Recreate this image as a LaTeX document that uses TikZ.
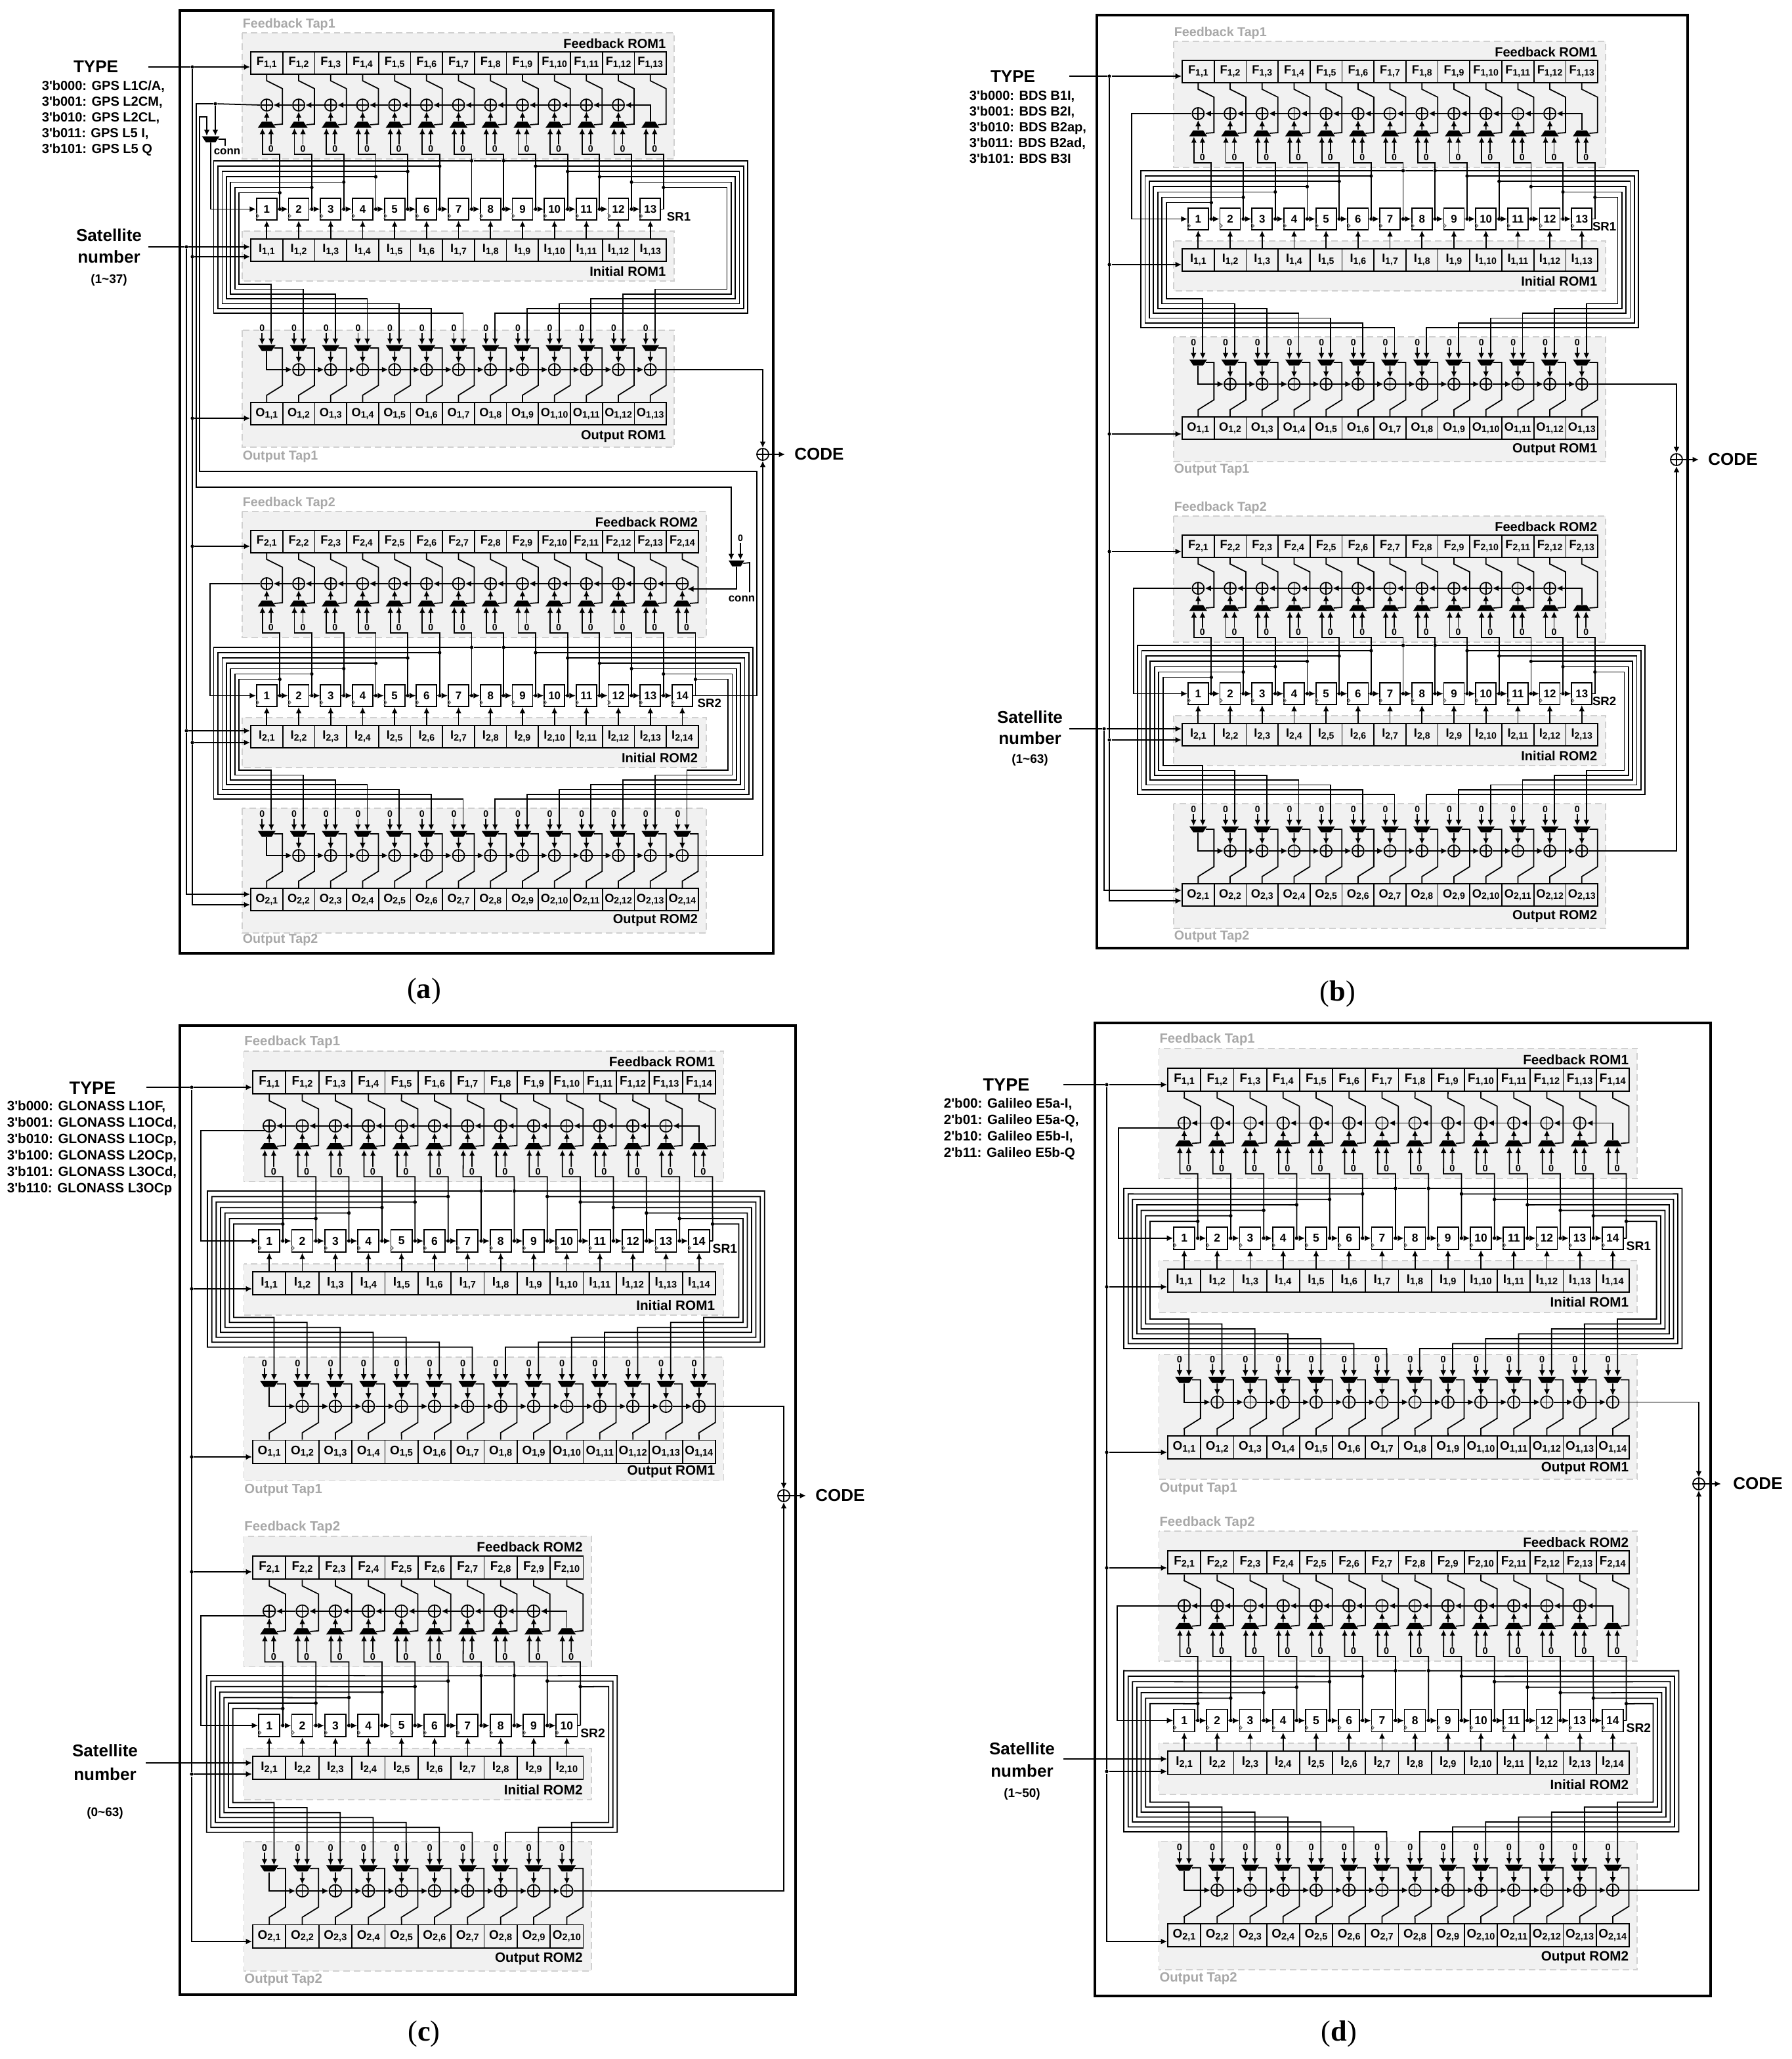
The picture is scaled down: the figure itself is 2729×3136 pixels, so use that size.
\documentclass[tikz,border=0pt]{standalone}
\usepackage{fontspec}
\setmainfont{Liberation Sans}
\newfontfamily\capfont{Liberation Serif}
\usetikzlibrary{arrows.meta,shapes.geometric}
\definecolor{tapgrey}{HTML}{F1F1F1}
\definecolor{tapline}{HTML}{D0D0D0}
\definecolor{taptext}{HTML}{A8A8A8}
\newcommand{\fsz}[1]{\fontsize{#1pt}{#1pt}\selectfont}
\newcommand{\cellname}[3]{{\fsz{5.2}#1}\raisebox{-0.7pt}{\fsz{4}#2,#3}}
\tikzset{
	panelframe/.style={line width=1.15pt},			% Panel border
	taparea/.style={draw=tapline,fill=tapgrey,dash pattern=on 2.8pt off 1.7pt,line width=0.5pt},
	taplabel/.style={font=\bfseries\fsz{5.6},text=taptext,inner sep=0pt},
	romlabel/.style={font=\bfseries\fsz{5.7},inner sep=0pt,anchor=east},
	rom/.style={rectangle,draw,fill=tapgrey,minimum width=0.487cm,minimum height=0.34cm,inner sep=0pt,font=\bfseries},
	srbox/.style={rectangle,draw,fill=white,minimum width=0.31cm,minimum height=0.33cm,inner sep=0pt,font=\bfseries\fsz{4.8}},
	xorgate/.style={circle,draw,minimum size=0.18cm,inner sep=0pt,path picture={
		\draw (path picture bounding box.north) -- (path picture bounding box.south)
			(path picture bounding box.west) -- (path picture bounding box.east);}},
	muxbase/.style={trapezium,trapezium stretches=true,trapezium angle=68,fill=black,minimum width=0.27cm,minimum height=0.09cm,inner sep=0pt,text width=0.3pt,text height=0.3pt,text depth=0pt},
	muxup/.style={muxbase},						% Wide side below
	muxdown/.style={muxbase,shape border rotate=180},	% Wide side above
	junction/.style={circle,fill=black,minimum size=0.052cm,inner sep=0pt},
	zero/.style={font=\bfseries\fsz{4},inner sep=0.2pt},
	paneltitle/.style={font=\bfseries\fsz{7.4},inner sep=0pt},
	bigtitle/.style={font=\bfseries\fsz{7.7},inner sep=0pt},
	sublist/.style={font=\bfseries\fontsize{5.7pt}{6.83pt}\selectfont,inner sep=0pt,align=left,anchor=west},
	widelist/.style={font=\bfseries\fontsize{5.85pt}{7.1pt}\selectfont,inner sep=0pt,align=left,anchor=west},
	satrange/.style={font=\bfseries\fsz{5.4},inner sep=0pt},
	connlabel/.style={font=\bfseries\fsz{4.8},inner sep=0pt},
	panelcap/.style={font=\capfont\fsz{12.6},inner sep=0pt}
}
% Chain defaults, changed in front of a chain where it differs
\newcommand{\chaindefaults}{
	\def\ogtop{-122}\def\ogbot{68}\def\omlabel{50}\def\otlabel{81}\def\lowgap{136}\def\srdx{14}
}
\chaindefaults
% #1 name #2 chain #3 cells #4 feedback row #5 upper bus #6 output row #7 bus left #8 bus right #9 xor count
\newcommand{\lfsr}[9]{
	\pgfmathsetmacro{\roww}{#3*48.7}
	\draw[taparea] (-13,#4-29) rectangle (\roww+12,#4+163);
	\draw[taparea] (-13,#5+107) rectangle (\roww+12,#5+183);
	\draw[taparea] (-13,#6+\ogtop) rectangle (\roww+12,#6+\ogbot);
	\node[taplabel,anchor=west] (#1-ftap) at (-13,#4-42) {Feedback Tap#2};
	\node[taplabel,anchor=west] (#1-otap) at (-13,#6+\otlabel) {Output Tap#2};
	\node[romlabel] (#1-from) at (\roww,#4-13) {Feedback ROM#2};
	\node[romlabel] (#1-irom) at (\roww,#5+168) {Initial ROM#2};
	\node[romlabel] (#1-orom) at (\roww,#6+\omlabel) {Output ROM#2};
	\node[font=\bfseries\fsz{5.3},inner sep=0pt] (#1-srname) at (\roww+\srdx,#5+85) {SR#2};
	\foreach \i in {1,...,#3} {
		\pgfmathsetmacro{\cx}{(\i-0.5)*48.7}
		\pgfmathtruncatemacro{\k}{\i<8 ? 7-\i : \i-8}
		\node[rom] (#1-F-\i) at (\cx,#4+17) {\cellname{F}{#2}{\i}};
		\node[rom] (#1-I-\i) at (\cx,#5+136) {\cellname{I}{#2}{\i}};
		\node[rom] (#1-O-\i) at (\cx,#6+17) {\cellname{O}{#2}{\i}};
		\node[srbox] (#1-S-\i) at (\cx,#5+73.5) {\i};
		\node[muxup] (#1-fm-\i) at (\cx,#4+111) {};
		\node[muxdown] (#1-om-\i) at (\cx,#6-83) {};
		\coordinate (#1-fl-\i) at (\cx-6.5,#4+116);
		\coordinate (#1-fr-\i) at (\cx+6.5,#4+116);
		\coordinate (#1-ol-\i) at (\cx-7,#6-88);
		\coordinate (#1-or-\i) at (\cx+7,#6-88);
		\node[zero] (#1-fz-\i) at (\cx+6.5,#4+148) {0};
		\node[zero] (#1-oz-\i) at (\cx-7,#6-113) {0};
		\node[junction] (#1-lv-\i) at (\cx+20,#5+\k*8.1) {};
		\ifnum\i<#3
			\node[junction] (#1-cd-\i) at (\cx+20,#5+73.5) {};
		\else
			\coordinate (#1-cd-\i) at (\cx+20,#5+73.5);
		\fi
		\ifnum\i>#9\else
			\node[xorgate] (#1-fx-\i) at (\cx,#4+81) {};
		\fi
		\ifnum\i>1
			\node[xorgate] (#1-ox-\i) at (\cx,#6-50) {};
		\fi
	}
	\foreach \i in {1,...,#3} {
		\pgfmathsetmacro{\cx}{(\i-0.5)*48.7}
		\pgfmathtruncatemacro{\k}{\i<8 ? 7-\i : \i-8}
		\pgfmathtruncatemacro{\j}{\i+1}
		\pgfmathtruncatemacro{\h}{\i-1}
		\pgfmathsetmacro{\xk}{\i<8 ? #7+6.45*\k : #8-6.3*\k}
		% Feedback side
		\draw (#1-F-\i.south) -- (\cx,#4+44) -- (\cx+24,#4+56) -- (\cx+24,#4+110) -- (#1-fm-\i.east);
		\draw[->] (#1-fz-\i) -- (#1-fr-\i);
		\ifnum\i>#9
			\draw[->] (#1-fm-\i.north) |- (#1-fx-#9.east);
		\else
			\draw[->] (#1-fm-\i.north) -- (#1-fx-\i.south);
		\fi
		\ifnum\i<#9
			\draw[->] (#1-fx-\j.west) -- (#1-fx-\i.east);
		\fi
		% Shift register
		\draw[gray] (#1-S-\i.south west) ++(0,-3) -- ++(4,-4) -- ++(-4,-4);
		\draw[->] (#1-I-\i.north) -- (#1-S-\i.south);
		\draw (#1-S-\i.east) -- (#1-cd-\i);
		\ifnum\i<#3
			\draw[->] (#1-cd-\i) -- (#1-S-\j.west);
		\fi
		\draw[->] (#1-cd-\i.center) -- (#1-lv-\i.center) -- (\cx+20,#4+156) -- (\cx-6.5,#4+156) -- (#1-fl-\i);
		% Bus to the output muxes
		\draw[->] (#1-lv-\i.center) -- (\xk,#5+\k*8.1) -- (\xk,#6-\lowgap-\k*7.3) -- (\cx+7,#6-\lowgap-\k*7.3) -- (#1-or-\i);
		% Output side
		\draw[->] (#1-oz-\i) -- (#1-ol-\i);
		\draw (#1-om-\i.east) -- (\cx+24,#6-83) -- (\cx+24,#6-26) -- (\cx,#6-11) -- (#1-O-\i.north);
		\ifnum\i=1
			\draw[->] (#1-om-\i.south) |- (#1-ox-2.west);
		\else
			\draw[->] (#1-om-\i.south) -- (#1-ox-\i.north);
		\fi
		\ifnum\i>2
			\draw[->] (#1-ox-\h.east) -- (#1-ox-\i.west);
		\fi
	}
	\draw (#1-lv-7) -- (#1-lv-8);
}
% Entry with a junction on a vertical line
\newcommand{\tapin}[4]{
	\node[junction] (#1) at (#2,#3) {};
	\draw[->] (#1) -- (#1 -| #4.west);
}
% Entry where a vertical line ends
\newcommand{\tapend}[5]{
	\coordinate (#1) at (#2,#3);
	\draw[->] (#5) -- (#1) -- (#1 -| #4.west);
}
% Line from the first xor back to the first flip-flop
\newcommand{\fbwire}[3]{
	\coordinate (#1-fbx) at (#3,0);
	\draw[->] (#1-fx-1.#2) -- (#1-fx-1.#2 -| #1-fbx) -- (#1-fbx |- #1-S-1.west) -- (#1-S-1.west);
}
% Xor of both output lines
\newcommand{\codeout}[6]{
	\node[xorgate] (#1-cx) at (#4,#5) {};
	\node[paneltitle] (#1-code) at (#6,#5) {CODE};
	\coordinate (#1-cout) at (#4+34,#5);
	\draw[->] (#2.east) -| (#1-cx.north);
	\draw[->] (#3.east) -| (#1-cx.south);
	\draw[->] (#1-cx.east) -- (#1-cout);
}
\begin{document}
\begin{tikzpicture}[x=0.01cm,y=-0.01cm,line width=0.5pt,>={Latex[length=2.7pt,width=2.5pt]}]
	\useasboundingbox (0,0) rectangle (2729,3136);
	% Panel (a)
	\draw[panelframe] (274,16) rectangle (1178,1452);
	\begin{scope}[shift={(382,79)}]
		\chaindefaults
		\def\ogtop{-110}\def\omlabel{52}\def\otlabel{83}\def\srdx{19}
		\lfsr{a1}{1}{13}{0}{166}{534}{-56.5}{757}{12}
		\chaindefaults
		\def\omlabel{49}\def\otlabel{79}\def\srdx{17}
		\lfsr{a2}{2}{14}{729}{907}{1274}{-56.5}{765}{14}
	\end{scope}
	\node[paneltitle] (a-type) at (146,102) {TYPE};
	\node[sublist] (a-list) at (63,180) {3\textquotesingle b000: GPS L1C/A,\\3\textquotesingle b001: GPS L2CM,\\3\textquotesingle b010: GPS L2CL,\\3\textquotesingle b011: GPS L5 I,\\3\textquotesingle b101: GPS L5 Q};
	\node[paneltitle] (a-sat) at (166,358) {Satellite};
	\node[paneltitle] (a-num) at (166,391) {number};
	\node[satrange] (a-rng) at (166,427) {(1\textasciitilde 37)};
	\coordinate (a-tin) at (226,102);
	\coordinate (a-sin) at (226,376);
	\tapin{a-t1}{293}{102}{a1-F-1}
	\tapin{a-s1}{284}{376}{a1-I-1}
	\tapin{a-t2}{293}{391}{a1-I-1}
	\tapin{a-t3}{293}{637}{a1-O-1}
	\tapin{a-t4}{293}{832}{a2-F-1}
	\tapin{a-s2}{284}{1113}{a2-I-1}
	\tapin{a-t5}{293}{1131}{a2-I-1}
	\tapend{a-s3}{284}{1362}{a2-O-1}{a-s2}
	\tapend{a-t6}{293}{1378}{a2-O-1}{a-t5}
	\draw (a-tin) -- (a-t1) -- (a-t5);
	\draw (a-sin) -- (a-s1) -- (a-s2);
	% Mux between the two registers
	\node[muxdown] (a-cm1) at (321,212) {};
	\node[muxdown,minimum width=0.24cm] (a-cm2) at (1122,858) {};
	\node[junction] (a-fbd) at (328,158) {};
	\node[zero] (a-cz) at (1128,820) {0};
	\node[connlabel] (a-cn1) at (346,231) {conn};
	\node[connlabel] (a-cn2) at (1130,912) {conn};
	\draw (a1-fx-1.west) -- (a-fbd);
	\draw[->] (a-fbd) -- (328,207);
	\draw[->] (a-fbd) -- (299,158) -- (299,742) -- (1114,742) -- (1114,853);
	\draw[->] (a-cz) -- (1128,853);
	\draw[->] (a-cm1.south) |- (a1-S-1.west);
	\draw (a-cm1.east) -- (343,212) -- (343,222);
	\draw (a-cm2.east) -- (1142,857) -- (1142,902);
	\coordinate (a-srx) at (1153,0);
	\draw[->] (a2-S-14.east) -- (a2-S-14.east -| a-srx) -- (1153,718) -- (304,718) -- (304,178) -- (315,178) -- (315,207);
	\draw[->] (a-cm2.south) |- (1047,897);
	\fbwire{a2}{west}{320}
	\codeout{a}{a1-ox-13}{a2-ox-14}{1162}{692}{1248}
	\node[panelcap] (a-cap) at (646,1510) {({\bfseries a})};
	% Panel (b)
	\draw[panelframe] (1671,23) rectangle (2571,1444);
	\begin{scope}[shift={(1801,92)}]
		\chaindefaults
		\def\srdx{10}
		\lfsr{b1}{1}{13}{0}{168}{543}{-63}{695}{12}
		\lfsr{b2}{2}{13}{723}{891}{1254}{-68}{705}{12}
	\end{scope}
	\node[paneltitle] (b-type) at (1543,117) {TYPE};
	\node[sublist] (b-list) at (1476,193) {3\textquotesingle b000: BDS B1I,\\3\textquotesingle b001: BDS B2I,\\3\textquotesingle b010: BDS B2ap,\\3\textquotesingle b011: BDS B2ad,\\3\textquotesingle b101: BDS B3I};
	\node[paneltitle] (b-sat) at (1569,1092) {Satellite};
	\node[paneltitle] (b-num) at (1569,1124) {number};
	\node[satrange] (b-rng) at (1569,1158) {(1\textasciitilde 63)};
	\coordinate (b-tin) at (1629,116);
	\coordinate (b-sin) at (1629,1110);
	\tapin{b-t1}{1690}{116}{b1-F-1}
	\tapin{b-t2}{1690}{403}{b1-I-1}
	\tapin{b-t3}{1690}{661}{b1-O-1}
	\tapin{b-t4}{1690}{840}{b2-F-1}
	\tapin{b-s1}{1682}{1110}{b2-I-1}
	\tapin{b-t5}{1690}{1127}{b2-I-1}
	\tapend{b-s2}{1682}{1356}{b2-O-1}{b-s1}
	\tapend{b-t6}{1690}{1372}{b2-O-1}{b-t5}
	\draw (b-tin) -- (b-t1) -- (b-t5);
	\draw (b-sin) -- (b-s1);
	\fbwire{b1}{west}{1724}
	\fbwire{b2}{west}{1727}
	\codeout{b}{b1-ox-13}{b2-ox-13}{2554}{700}{2640}
	\node[panelcap] (b-cap) at (2038,1514) {({\bfseries b})};
	% Panel (c)
	\draw[panelframe] (274,1562) rectangle (1212,3038);
	\begin{scope}[shift={(385,1631)},scale=1.034,transform shape]
		\chaindefaults
		\def\ogbot{59}\def\omlabel{46}\def\otlabel{73}\def\lowgap{137}
		\lfsr{c1}{1}{14}{0}{177}{544}{-66.7}{754}{13}
		\chaindefaults
		\lfsr{c2}{2}{10}{714.7}{890.7}{1257.7}{-68}{537}{9}
	\end{scope}
	\node[bigtitle] (c-type) at (141,1657) {TYPE};
	\node[widelist] (c-list) at (10,1748.5) {3\textquotesingle b000: GLONASS L1OF,\\3\textquotesingle b001: GLONASS L1OCd,\\3\textquotesingle b010: GLONASS L1OCp,\\3\textquotesingle b100: GLONASS L2OCp,\\3\textquotesingle b101: GLONASS L3OCd,\\3\textquotesingle b110: GLONASS L3OCp};
	\node[paneltitle] (c-sat) at (160,2666) {Satellite};
	\node[paneltitle] (c-num) at (160,2702) {number};
	\node[satrange] (c-rng) at (160,2762) {(0\textasciitilde 63)};
	\coordinate (c-tin) at (223,1656);
	\coordinate (c-sin) at (222,2685);
	\tapin{c-t1}{292}{1656}{c1-F-1}
	\tapin{c-t2}{292}{1963}{c1-I-1}
	\tapin{c-t3}{292}{2219}{c1-O-1}
	\tapin{c-t4}{292}{2394}{c2-F-1}
	\tapin{c-t5}{292}{2702}{c2-I-1}
	\tapend{c-t6}{292}{2957}{c2-O-1}{c-t5}
	\draw (c-tin) -- (c-t1) -- (c-t5);
	\draw[->] (c-sin) -- (c-sin -| c2-I-1.west);
	\fbwire{c1}{south west}{306}
	\fbwire{c2}{south west}{306}
	\codeout{c}{c1-ox-14}{c2-ox-10}{1194}{2278}{1280}
	\node[panelcap] (c-cap) at (646,3098) {({\bfseries c})};
	% Panel (d)
	\draw[panelframe] (1668,1558) rectangle (2606,3040);
	\begin{scope}[shift={(1779,1627)},scale=1.031,transform shape]
		\chaindefaults
		\def\ogtop{-120}\def\ogbot{64}\def\omlabel{47.5}\def\otlabel{78}\def\lowgap{129}
		\lfsr{d1}{1}{14}{0}{177.5}{543.2}{-65}{760}{13}
		\chaindefaults
		\lfsr{d2}{2}{14}{713}{890}{1264}{-65}{755}{13}
	\end{scope}
	\node[bigtitle] (d-type) at (1533,1652) {TYPE};
	\node[widelist] (d-list) at (1437,1719.5) {2\textquotesingle b00: Galileo E5a-I,\\2\textquotesingle b01: Galileo E5a-Q,\\2\textquotesingle b10: Galileo E5b-I,\\2\textquotesingle b11: Galileo E5b-Q};
	\node[paneltitle] (d-sat) at (1557,2663) {Satellite};
	\node[paneltitle] (d-num) at (1557,2697) {number};
	\node[satrange] (d-rng) at (1557,2733) {(1\textasciitilde 50)};
	\coordinate (d-tin) at (1620,1652);
	\coordinate (d-sin) at (1620,2679);
	\tapin{d-t1}{1686}{1652}{d1-F-1}
	\tapin{d-t2}{1686}{1960}{d1-I-1}
	\tapin{d-t3}{1686}{2212}{d1-O-1}
	\tapin{d-t4}{1686}{2388}{d2-F-1}
	\tapin{d-t5}{1686}{2698}{d2-I-1}
	\tapend{d-t6}{1686}{2957}{d2-O-1}{d-t5}
	\draw (d-tin) -- (d-t1) -- (d-t5);
	\draw[->] (d-sin) -- (d-sin -| d2-I-1.west);
	\fbwire{d1}{south west}{1704}
	\fbwire{d2}{west}{1702}
	\codeout{d}{d1-ox-14}{d2-ox-14}{2588}{2260}{2678}
	\node[panelcap] (d-cap) at (2040,3098) {({\bfseries d})};
\end{tikzpicture}
\end{document}
